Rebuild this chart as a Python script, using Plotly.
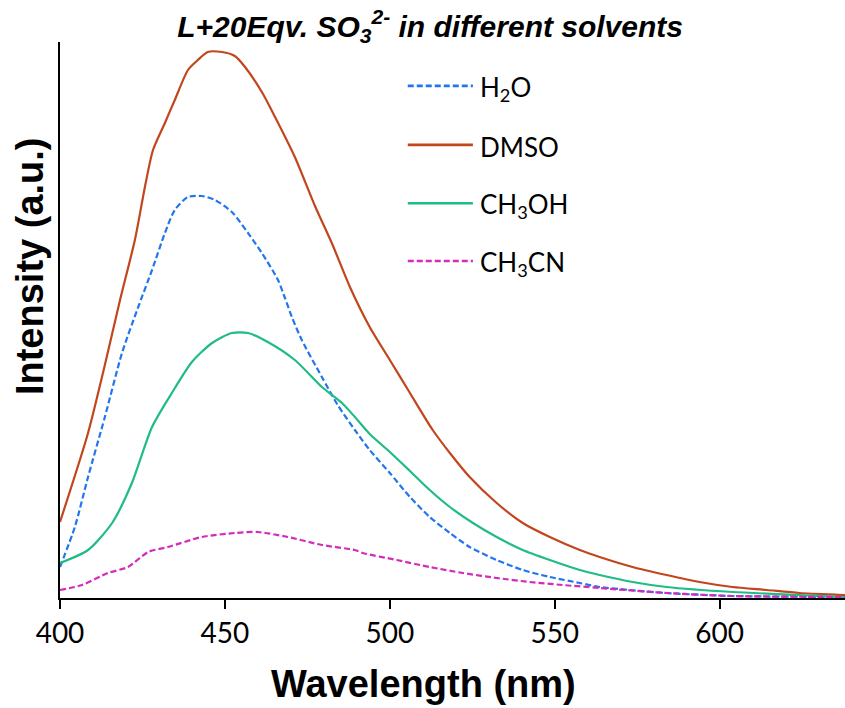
import plotly.graph_objects as go

# ---- data (arbitrary intensity units) ----
wl_dmso = [400, 408.5, 413.6, 418.2, 422.7, 425.8, 428.2, 431.8, 434.8, 438.8, 441.8, 444.8,
           449.1, 453.0, 456.1, 461.2, 465.2, 471.2, 477.3, 482.4, 487.9, 493.9, 500.0, 506.1,
           513.0, 518.2, 524.2, 532.4, 540.3, 548.5, 557.6, 563.6, 573.6, 583.9, 593.9, 603.9,
           614.2, 624.2, 637.9, 645]
int_dmso = [76, 165, 233, 298, 358, 412, 448, 475, 498, 528, 538, 546,
            546, 542, 531, 506, 481, 441, 392, 355, 311, 271, 238, 205,
            168, 145, 121, 95, 75, 61, 48, 41, 31, 23, 16, 11,
            8, 5, 3, 2]

wl_h2o = [400, 404.5, 408.5, 413.6, 418.8, 423.6, 427.9, 431.8, 434.8, 438.8, 443.0, 447.0,
          452.1, 457.0, 461.2, 466.1, 468.2, 470.3, 473.3, 479.4, 484.2, 489.4, 493.9, 500.0,
          506.1, 512.1, 518.2, 524.2, 532.4, 540.3, 548.5, 557.6, 563.6, 572.7, 583.9, 603.9,
          637.9, 645]
int_h2o = [31, 71, 121, 181, 245, 290, 328, 365, 388, 401, 402, 398,
           386, 365, 345, 318, 300, 281, 258, 221, 193, 168, 148, 125,
           101, 81, 65, 51, 38, 28, 21, 15, 11, 8, 5, 2,
           1, 1]

wl_meoh = [400, 408.5, 415.8, 421.8, 427.9, 433.9, 440.0, 446.1, 452.1, 457.0, 463.0, 471.2,
           479.4, 485.5, 489.4, 493.9, 500.0, 506.1, 512.1, 518.2, 525.2, 532.4, 540.3, 548.5,
           557.6, 563.6, 573.6, 583.9, 603.9, 624.2, 637.9, 645]
int_meoh = [35, 48, 75, 115, 171, 205, 236, 255, 265, 265, 256, 238,
            211, 195, 181, 164, 146, 127, 108, 91, 75, 61, 48, 38,
            28, 23, 16, 11, 6, 3, 1, 1]

wl_mecn = [400, 406.7, 414.5, 420.6, 426.7, 432.7, 443.0, 453.0, 460.0, 469.1, 479.4, 489.4,
           491.8, 502.1, 512.1, 522.1, 532.4, 542.4, 552.4, 563.6, 583.9, 603.9, 637.9, 645]
int_mecn = [8, 13, 25, 31, 46, 51, 61, 65, 66, 61, 53, 48,
            45, 38, 31, 25, 20, 16, 13, 10, 5, 2, 1, 1]

series_names = ["H<sub>2</sub>O", "DMSO", "CH<sub>3</sub>OH", "CH<sub>3</sub>CN"]
series_x = [wl_h2o, wl_dmso, wl_meoh, wl_mecn]
series_y = [int_h2o, int_dmso, int_meoh, int_mecn]
series_colors = ["#2176EC", "#C2461D", "#1FBC84", "#D42BBA"]
series_dash = ["6px,3px", "solid", "solid", "6px,3px"]

x_ticks = [400, 450, 500, 550, 600]

fig = go.Figure()
for name, xs, ys, col, dash in zip(series_names, series_x, series_y, series_colors, series_dash):
    fig.add_trace(go.Scatter(x=xs, y=ys, mode="lines", name=name,
                             line=dict(color=col, width=2.2, dash=dash,
                                       shape="spline", smoothing=0.7),
                             showlegend=False))

# manual legend (line sample + label)
leg_y = [0.921, 0.815, 0.71, 0.606]
shapes = []
annotations = []
for name, col, dash, yy in zip(series_names, series_colors, series_dash, leg_y):
    shapes.append(dict(type="line", xref="paper", yref="paper", x0=0.443, x1=0.526,
                       y0=yy, y1=yy, line=dict(color=col, width=2.6, dash=dash)))
    annotations.append(dict(xref="paper", yref="paper", x=0.532, y=yy - 0.004,
                            xanchor="left", yanchor="middle", showarrow=False,
                            text=name, font=dict(family="Lato", size=26, color="black")))

annotations.append(dict(xref="paper", yref="paper", x=0, y=0.597, xshift=-30,
                        xanchor="center", yanchor="middle", textangle=-90, showarrow=False,
                        text="<b>Intensity (a.u.)</b>",
                        font=dict(family="Liberation Sans", size=38, color="black")))
annotations.append(dict(xref="paper", yref="paper", x=0.4625, y=-0.155,
                        xanchor="center", yanchor="middle", showarrow=False,
                        text="<b>Wavelength (nm)</b>",
                        font=dict(family="Liberation Sans", size=38, color="black")))

fig.update_layout(
    width=845, height=708,
    margin=dict(l=60, r=0, t=42, b=110),
    paper_bgcolor="white", plot_bgcolor="white",
    title=dict(text="<b><i>L+20Eqv. SO<sub>3</sub><sup>2-</sup> in different solvents</i></b>",
               x=0.509, xanchor="center", y=0.963, yanchor="middle",
               font=dict(family="Liberation Sans", size=30, color="black")),
    xaxis=dict(range=[400, 638], tickvals=x_ticks, ticktext=[str(t) for t in x_ticks],
               showline=True, linecolor="black", linewidth=2, mirror=False,
               ticks="outside", ticklen=9, tickwidth=2, tickcolor="black",
               tickfont=dict(family="Lato", size=28, color="black"),
               showgrid=False, zeroline=False),
    yaxis=dict(range=[0, 556], showline=True, linecolor="black", linewidth=2,
               showticklabels=False, ticks="", showgrid=False, zeroline=False),
    shapes=shapes, annotations=annotations,
)

fig.write_html("out.html")
